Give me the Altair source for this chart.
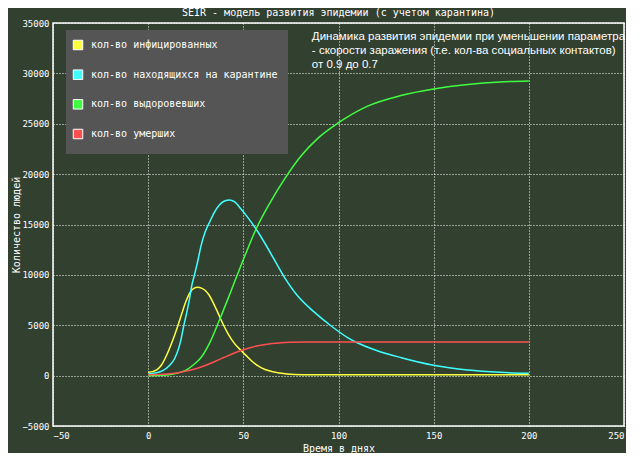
import altair as alt
import pandas as pd

# ---- data ----
series_names = [
    "кол-во инфицированных",
    "кол-во находящихся на карантине",
    "кол-во выдоровевших",
    "кол-во умерших",
]
series_colors = ["#ffff40", "#40ffff", "#40ff40", "#ff5050"]

t_infected = [0, 3, 5, 7, 9, 11, 13, 15.6, 18, 20, 22, 24, 26, 28, 30, 32, 34, 36.5, 39, 42, 45.3, 48.8, 52, 55, 59.3, 64, 68, 72, 77, 85, 120, 200]
v_infected = [330, 450, 650, 1050, 1750, 2600, 3550, 4950, 6350, 7450, 8250, 8650, 8770, 8680, 8450, 8000, 7300, 6300, 5250, 4150, 3200, 2500, 1900, 1350, 800, 450, 290, 180, 110, 85, 80, 80]

t_quarantine = [0, 3.3, 7.7, 11.2, 13.8, 15.9, 17.3, 18.7, 20.3, 21.7, 22.9, 24.3, 26.1, 27.8, 29.9, 32.2, 34.8, 37.4, 40.1, 42.7, 45.3, 48.8, 52.3, 56.7, 64.6, 71.6, 78.6, 87, 96, 105, 109, 120, 133, 150, 168, 185, 200]
v_quarantine = [160, 260, 490, 1000, 1650, 2640, 3630, 4950, 6280, 7600, 8920, 9990, 11400, 12900, 14220, 15210, 16210, 16930, 17330, 17430, 17260, 16540, 15710, 14550, 12070, 9760, 7900, 6350, 4950, 3750, 3340, 2500, 1780, 1030, 560, 330, 230]

t_recovered = [0, 5, 10, 14, 17.3, 20.8, 24, 27.8, 32.2, 37.4, 43.6, 50.6, 56.7, 64, 71.6, 80.3, 90, 100, 115.3, 132.8, 150, 168, 185, 200]
v_recovered = [0, 10, 50, 180, 350, 650, 1100, 1800, 3200, 5500, 8430, 11800, 14550, 17150, 19500, 21800, 23700, 25100, 26750, 27800, 28450, 28900, 29150, 29250]

t_dead = [0, 5, 10, 15, 20, 25, 30, 35, 40, 45, 50, 55, 60, 65, 70, 75, 82, 100, 200]
v_dead = [90, 100, 150, 260, 450, 680, 1000, 1400, 1820, 2220, 2570, 2850, 3050, 3190, 3270, 3310, 3335, 3340, 3340]

x_ticks = [-50, 0, 50, 100, 150, 200, 250]
y_ticks = [-5000, 0, 5000, 10000, 15000, 20000, 25000, 30000, 35000]

title_text = "SEIR - модель развития эпидемии (с учетом карантина)"
x_title = "Время в днях"
y_title = "Количество людей"
note_text = [
    "Динамика развития эпидемии при уменьшении параметра",
    "- скорости заражения (т.е. кол-ва социальных контактов)",
    "от 0.9 до 0.7",
]
note_pos = (86, 34250)

bg = "#324030"
legend_bg = "#555555"
mono = "DejaVu Sans Mono"

# ---- build tables ----
rows = []
for name, ts, vs in zip(series_names,
                        [t_infected, t_quarantine, t_recovered, t_dead],
                        [v_infected, v_quarantine, v_recovered, v_dead]):
    for i, (t, v) in enumerate(zip(ts, vs)):
        rows.append({"series": name, "t": t, "v": v, "order": i})
df = pd.DataFrame(rows)
legend_df = pd.DataFrame({"series": series_names})

xscale = alt.Scale(domain=[-50, 250], nice=False, zero=False)
yscale = alt.Scale(domain=[-5000, 35000], nice=False, zero=False)
color_scale = alt.Scale(domain=series_names, range=series_colors)

x_enc = alt.X("t:Q", scale=xscale, axis=alt.Axis(values=x_ticks, title=x_title, format="d"))
y_enc = alt.Y("v:Q", scale=yscale, axis=alt.Axis(values=y_ticks, title=y_title, format="d"))

lines = alt.Chart(df).mark_line(strokeWidth=1.5, interpolate="monotone").encode(
    x=x_enc,
    y=y_enc,
    color=alt.Color("series:N", scale=color_scale, legend=None),
    detail="series:N",
    order="order:Q",
)

# ---- legend (box, swatches, labels) ----
legend_box = alt.Chart(pd.DataFrame({"k": [0]})).mark_rect(fill=legend_bg).encode(
    x=alt.value(13), x2=alt.value(235), y=alt.value(7), y2=alt.value(131),
)
legend_y = alt.Y("series:N", sort=series_names, axis=None,
                 scale=alt.Scale(type="point", domain=series_names, range=[22, 111], padding=0))
legend_sw = alt.Chart(legend_df).mark_square(filled=True, size=90, stroke="white", strokeWidth=1, opacity=1).encode(
    x=alt.value(25),
    y=legend_y,
    color=alt.Color("series:N", scale=color_scale, legend=None),
)
legend_tx = alt.Chart(legend_df).mark_text(align="left", baseline="middle", font=mono, fontSize=10, color="white").encode(
    x=alt.value(38),
    y=legend_y,
    text="series:N",
)

note_df = pd.DataFrame({"t": [note_pos[0]], "y": [note_pos[1]], "text": ["\n".join(note_text)]})
note = alt.Chart(note_df).mark_text(
    align="left", baseline="top", color="white", font="Liberation Sans",
    fontSize=11.5, lineHeight=14, lineBreak="\n",
).encode(
    x=x_enc,
    y=alt.Y("y:Q", scale=yscale, axis=None),
    text="text:N",
)

chart = alt.layer(lines, legend_box, legend_sw, legend_tx, note).resolve_scale(
    y="independent"
).properties(
    width=571,
    height=403,
    title=alt.TitleParams(title_text, font=mono, fontSize=10, fontWeight="normal",
                          color="white", anchor="middle", offset=1),
    padding={"left": 3, "top": 0, "right": 0, "bottom": 0},
    background=bg,
).configure_view(
    stroke="white", strokeWidth=1.5, fill=bg,
).configure_axis(
    grid=True, gridColor="white", gridDash=[1, 2], gridWidth=1, gridOpacity=1,
    domain=False, ticks=False,
    labelFont=mono, labelFontSize=9, labelColor="white",
    titleFont=mono, titleFontSize=10, titleFontWeight="normal", titleColor="white",
).configure_axisX(
    labelPadding=5, titlePadding=3,
).configure_axisY(
    labelPadding=4, titlePadding=0,
)

chart.save("out.html", embed_options={"renderer": "svg", "actions": False})
